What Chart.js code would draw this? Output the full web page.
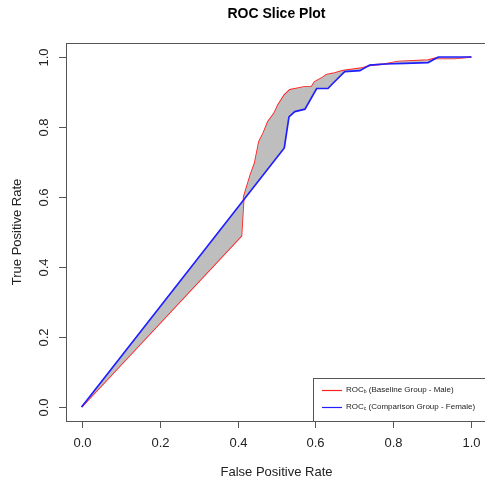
<!DOCTYPE html>
<html>
<head>
<meta charset="utf-8">
<script src="https://cdn.jsdelivr.net/npm/chart.js@4"></script>
<style>
  html, body { margin: 0; padding: 0; background: #fff; overflow: hidden; }
  canvas { display: block; }
</style>
</head>
<body>
<canvas id="roc" width="490" height="483"></canvas>
<script>
// ROC_b: baseline group (male)
const fprB = [0, 0.410, 0.416, 0.433, 0.444, 0.455, 0.466, 0.478, 0.494, 0.504, 0.520, 0.534, 0.573, 0.590, 0.598, 0.615, 0.628, 0.645, 0.671, 0.718, 0.744, 0.778, 0.812, 0.889, 0.906, 0.957, 1.0];
const tprB = [0, 0.489, 0.600, 0.663, 0.696, 0.758, 0.782, 0.815, 0.839, 0.863, 0.891, 0.906, 0.915, 0.915, 0.929, 0.939, 0.949, 0.953, 0.961, 0.968, 0.977, 0.980, 0.987, 0.991, 0.996, 0.996, 1.0];

// ROC_c: comparison group (female)
const fprC = [0, 0.520, 0.532, 0.547, 0.573, 0.603, 0.632, 0.645, 0.675, 0.714, 0.739, 0.778, 0.829, 0.889, 0.915, 1.0];
const tprC = [0, 0.740, 0.829, 0.844, 0.851, 0.910, 0.910, 0.925, 0.958, 0.961, 0.977, 0.980, 0.982, 0.984, 1.0, 1.0];

const xTicks = [0, 0.2, 0.4, 0.6, 0.8, 1.0];
const yTicks = [0, 0.2, 0.4, 0.6, 0.8, 1.0];

const FONT = '"Liberation Sans", Arial, Helvetica, sans-serif';

function toPoints(xs, ys) {
    return xs.map((x, i) => ({ x: x, y: ys[i] }));
}

// R-style frame, ticks, labels and legend
const rFrame = {
    id: 'rFrame',
    afterDraw(chart) {
        const ctx = chart.ctx;
        const a = chart.chartArea;
        const xs = chart.scales.x, ys = chart.scales.y;
        ctx.save();
        ctx.strokeStyle = '#555';
        ctx.lineWidth = 1;
        ctx.strokeRect(a.left + 0.5, a.top + 0.5, a.right - a.left, a.bottom - a.top);

        ctx.fillStyle = '#222';
        ctx.font = '13px ' + FONT;
        // x ticks
        ctx.textAlign = 'center';
        ctx.textBaseline = 'middle';
        xTicks.forEach(v => {
            const px = Math.round(xs.getPixelForValue(v)) + 0.5;
            ctx.beginPath();
            ctx.moveTo(px, a.bottom);
            ctx.lineTo(px, a.bottom + 7);
            ctx.stroke();
            ctx.fillText(v.toFixed(1), px, 443);
        });
        // y ticks, labels parallel to axis
        yTicks.forEach(v => {
            const py = Math.round(ys.getPixelForValue(v)) + 0.5;
            ctx.beginPath();
            ctx.moveTo(a.left, py);
            ctx.lineTo(a.left - 7, py);
            ctx.stroke();
            ctx.save();
            ctx.translate(44, py);
            ctx.rotate(-Math.PI / 2);
            ctx.fillText(v.toFixed(1), 0, 0);
            ctx.restore();
        });

        // axis titles
        const cx = (a.left + a.right) / 2;
        ctx.fillText('False Positive Rate', cx, 472);
        ctx.save();
        ctx.translate(17, ys.getPixelForValue(0.5));
        ctx.rotate(-Math.PI / 2);
        ctx.fillText('True Positive Rate', 0, 0);
        ctx.restore();

        // main title
        ctx.font = 'bold 14px ' + FONT;
        ctx.fillStyle = '#000';
        ctx.fillText('ROC Slice Plot', cx, 14);

        // legend, bottom right
        const lx = 313, ly = 378;
        ctx.strokeStyle = '#555';
        ctx.strokeRect(lx + 0.5, ly + 0.5, a.right - lx, a.bottom - ly);
        const items = [
            { sub: 'b', text: ' (Baseline Group - Male)', color: '#ff2020', y: 390 },
            { sub: 'c', text: ' (Comparison Group - Female)', color: '#2020ff', y: 407 }
        ];
        items.forEach(it => {
            ctx.strokeStyle = it.color;
            ctx.lineWidth = 1.2;
            ctx.beginPath();
            ctx.moveTo(322, it.y + 0.5);
            ctx.lineTo(342, it.y + 0.5);
            ctx.stroke();
            ctx.fillStyle = '#222';
            ctx.textAlign = 'left';
            ctx.font = '8px ' + FONT;
            let x = 346;
            ctx.fillText('ROC', x, it.y);
            x += ctx.measureText('ROC').width;
            ctx.font = '5px ' + FONT;
            ctx.fillText(it.sub, x, it.y + 2);
            x += ctx.measureText(it.sub).width;
            ctx.font = '8px ' + FONT;
            ctx.fillText(it.text, x, it.y);
        });
        ctx.restore();
    }
};

new Chart(document.getElementById('roc'), {
    type: 'line',
    data: {
        datasets: [
            {
                label: 'ROCc (Comparison Group - Female)',
                data: toPoints(fprC, tprC),
                borderColor: '#2020ff',
                borderWidth: 1.7,
                pointRadius: 0,
                tension: 0,
                fill: { target: 1, above: '#bebebe', below: '#bebebe' }
            },
            {
                label: 'ROCb (Baseline Group - Male)',
                data: toPoints(fprB, tprB),
                borderColor: '#ff2020',
                borderWidth: 1.7,
                pointRadius: 0,
                tension: 0,
                fill: false
            }
        ]
    },
    options: {
        responsive: false,
        animation: false,
        layout: { padding: { left: 66, top: 43, right: 3, bottom: 62 } },
        scales: {
            x: { type: 'linear', min: -0.04, max: 1.04, display: false },
            y: { type: 'linear', min: -0.04, max: 1.04, display: false }
        },
        plugins: {
            legend: { display: false },
            tooltip: { enabled: false }
        }
    },
    plugins: [rFrame]
});
</script>
</body>
</html>
